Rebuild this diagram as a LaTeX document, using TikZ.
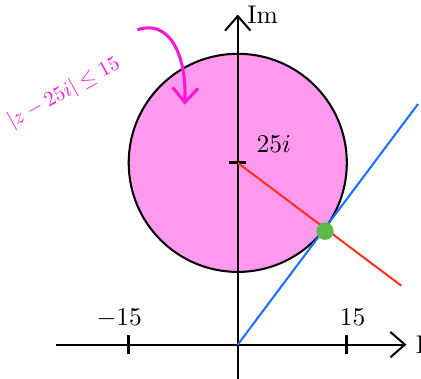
\documentclass[tikz,border=0pt]{standalone}
\usepackage{amsfonts,amssymb,amsmath}
\usepackage{tikz}
\usetikzlibrary{arrows.meta}
\definecolor{diskpink}{RGB}{255,153,238}
\definecolor{penpink}{RGB}{255,20,210}
\definecolor{lineblue}{RGB}{20,115,255}
\definecolor{linered}{RGB}{255,50,30}
\definecolor{dotgreen}{RGB}{95,185,70}

\begin{document}
\begin{tikzpicture}[x=0.1cm,y=0.1cm,>={Straight Barb[length=2mm,width=3.5mm]}]
\useasboundingbox (-32.7,-4.7) rectangle (25.2,47.4);
\coordinate (O) at (0,0);
\coordinate (C) at (0,25);
\coordinate (xl) at (-25,0);
\coordinate (xr) at (23.2,0);
\coordinate (yb) at (0,-4.7);
\coordinate (yt) at (0,45.4);
\coordinate (B) at (24.8,33.1);
\coordinate (R) at (22.5,8.1);
\fill[diskpink](C)circle(15);
\draw[thick](C)circle(15);
\draw[thick,->](xl)--(xr)node[right]{Re};
\draw[thick,->](yb)--(yt)node[right]{Im};
\draw[very thick](-15,-1.3)--(-15,1.3);
\draw[very thick](15,-1.3)--(15,1.3);
\node(m15)at(-16.3,3.6){$-15$};
\node(p15)at(15.8,3.8){$15$};
\draw[very thick](-1.2,25)--(1.2,25)node[above right]{$25i$};
\draw[thick,lineblue](O)--(B);
\draw[thick,linered](C)--(R);
\node[circle,fill=dotgreen,minimum size=2.4mm,inner sep=0pt](T)at(12,15.6){};
\node[penpink,rotate=29,scale=0.82,inner sep=0pt](L)at(-23.9,34.6){$|z-25i|\le 15$};
\coordinate (A1) at (-13.8,43.3);
\coordinate (A2) at (-7.3,33);
\draw[penpink,very thick,->](A1)..controls(-9.5,44.8)and(-7,40)..(A2);
\end{tikzpicture}
\end{document}
